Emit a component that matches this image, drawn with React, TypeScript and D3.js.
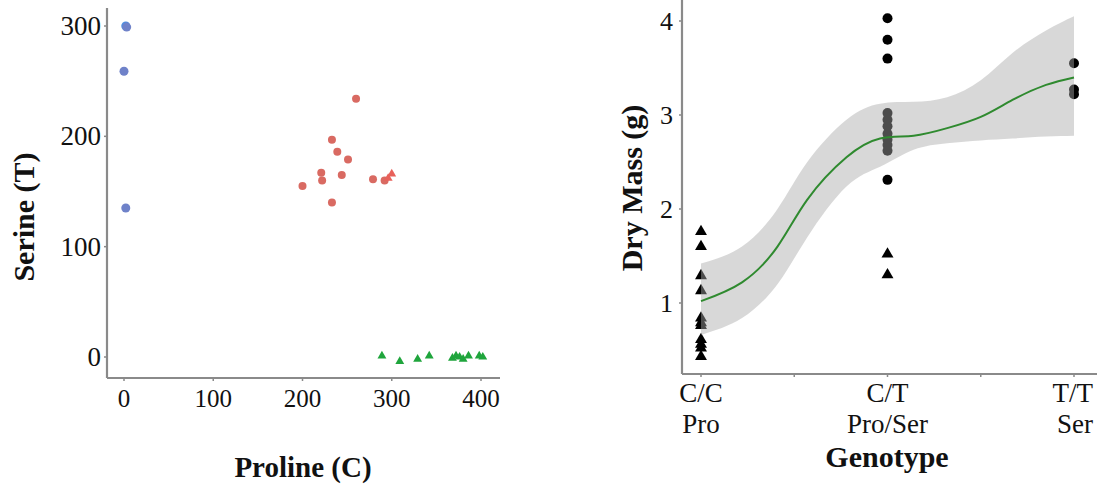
import React from "react";
import * as d3 from "d3";

// ---- Left panel data: Proline (C) vs Serine (T)
const blueX = [2, 3, 0, 2];
const blueY = [300, 299, 259, 135];
const redCircleX = [200, 221, 222, 233, 233, 239, 244, 251, 260, 279, 292];
const redCircleY = [155, 167, 160, 197, 140, 186, 165, 179, 234, 161, 160];
const redTriX = [296, 300];
const redTriY = [162, 166];
const greenTriX = [289, 309, 329, 342, 368, 372, 376, 380, 386, 398, 402];
const greenTriY = [1, -4, -2, 1, -1, 1, 0, -2, 1, 1, 0];
const leftXTicks = [0, 100, 200, 300, 400];
const leftYTicks = [0, 100, 200, 300];

// ---- Right panel data: Genotype vs Dry Mass (g)
const genotypeLine1 = ["C/C", "C/T", "T/T"];
const genotypeLine2 = ["Pro", "Pro/Ser", "Ser"];
const ccTriangles = [1.76, 1.6, 1.29, 1.13, 0.84, 0.79, 0.76, 0.61, 0.56, 0.52, 0.43];
const ctCircles = [4.03, 3.8, 3.6, 3.02, 2.95, 2.88, 2.8, 2.74, 2.68, 2.62, 2.31];
const ctTriangles = [1.52, 1.3];
const ttCircles = [3.55, 3.27, 3.22];
const smoothX = [1.0, 1.22, 1.41, 1.57, 1.78, 1.96, 2.14, 2.32, 2.5, 2.67, 2.85, 3.0];
const smoothFit = [1.02, 1.22, 1.6, 2.1, 2.55, 2.75, 2.78, 2.86, 2.98, 3.16, 3.32, 3.4];
const smoothHi = [1.42, 1.6, 2.0, 2.5, 2.95, 3.12, 3.14, 3.19, 3.37, 3.66, 3.9, 4.05];
const smoothLo = [0.66, 0.84, 1.2, 1.7, 2.24, 2.45, 2.63, 2.7, 2.73, 2.75, 2.77, 2.78];
const rightYTicks = [1, 2, 3, 4];
const rightXMinor = [1.5, 2.5];

const FONT = "'Liberation Serif', 'Times New Roman', serif";
const AXIS = "#8a8a8a";

export default function App() {
  // left scales
  const lx = d3.scaleLinear().domain([0, 400]).range([124, 481]);
  const ly = d3.scaleLinear().domain([0, 300]).range([357, 26]);
  const lAxisX0 = 107, lAxisX1 = 500, lAxisY = 378, lAxisTop = 8;

  // right scales
  const rx = d3.scaleLinear().domain([1, 3]).range([701, 1074]);
  const ry = d3.scaleLinear().domain([0, 4]).range([397, 21]);
  const rAxisX = 682, rAxisY = 374;

  const triSmall = d3.symbol().type(d3.symbolTriangle).size(34)() as string;
  const triBig = d3.symbol().type(d3.symbolTriangle).size(62)() as string;

  const band = d3
    .area<number>()
    .x((_, i) => rx(smoothX[i]))
    .y0((_, i) => ry(smoothLo[i]))
    .y1((_, i) => ry(smoothHi[i]))
    .curve(d3.curveNatural);
  const fitLine = d3
    .line<number>()
    .x((_, i) => rx(smoothX[i]))
    .y((d) => ry(d))
    .curve(d3.curveNatural);

  return (
    <svg
      width={1097}
      height={491}
      style={{ position: "absolute", left: 0, top: 0, background: "#fff" }}
      fontFamily={FONT}
    >
      {/* ===== Left panel ===== */}
      <g>
        <line x1={lAxisX0} x2={lAxisX0} y1={lAxisTop} y2={lAxisY} stroke={AXIS} strokeWidth={2.2} />
        <line x1={lAxisX0} x2={lAxisX1} y1={lAxisY} y2={lAxisY} stroke={AXIS} strokeWidth={2.2} />
        {leftXTicks.map((t) => (
          <g key={"lx" + t}>
            <line x1={lx(t)} x2={lx(t)} y1={lAxisY} y2={lAxisY + 3} stroke={AXIS} strokeWidth={1.5} />
            <text x={lx(t)} y={407} textAnchor="middle" fontSize={25} fill="#111">
              {t}
            </text>
          </g>
        ))}
        {leftYTicks.map((t) => (
          <g key={"ly" + t}>
            <line x1={lAxisX0 - 3} x2={lAxisX0} y1={ly(t)} y2={ly(t)} stroke={AXIS} strokeWidth={1.5} />
            <text x={101} y={ly(t) + 9} textAnchor="end" fontSize={27} fill="#111">
              {t}
            </text>
          </g>
        ))}
        <text
          transform={`translate(34,217) rotate(-90)`}
          textAnchor="middle"
          fontSize={30}
          fontWeight="bold"
          fill="#111"
        >
          Serine (T)
        </text>
        <text x={303} y={477} textAnchor="middle" fontSize={29} fontWeight="bold" fill="#111">
          Proline (C)
        </text>

        {blueX.map((x, i) => (
          <circle key={"b" + i} cx={lx(x)} cy={ly(blueY[i])} r={4.5} fill={i === 0 ? "#4f8ee0" : "#6f82c9"} />
        ))}
        {redCircleX.map((x, i) => (
          <circle key={"r" + i} cx={lx(x)} cy={ly(redCircleY[i])} r={4} fill="#d96a62" />
        ))}
        {redTriX.map((x, i) => (
          <path key={"rt" + i} d={triSmall} transform={`translate(${lx(x)},${ly(redTriY[i])})`} fill="#e8615a" />
        ))}
        {greenTriX.map((x, i) => (
          <path key={"g" + i} d={triSmall} transform={`translate(${lx(x)},${ly(greenTriY[i])})`} fill="#1fa53c" />
        ))}
      </g>

      {/* ===== Right panel ===== */}
      <g>
        {ccTriangles.map((v, i) => (
          <path key={"cc" + i} d={triBig} transform={`translate(${rx(1)},${ry(v)})`} fill="#000" />
        ))}
        {ctCircles.map((v, i) => (
          <circle key={"ctc" + i} cx={rx(2)} cy={ry(v)} r={5} fill="#000" />
        ))}
        {ctTriangles.map((v, i) => (
          <path key={"ctt" + i} d={triBig} transform={`translate(${rx(2)},${ry(v)})`} fill="#000" />
        ))}
        {ttCircles.map((v, i) => (
          <circle key={"tt" + i} cx={rx(3)} cy={ry(v)} r={5} fill="#000" />
        ))}

        <path d={band(smoothFit) as string} fill="#a9a9a9" fillOpacity={0.45} />
        <path d={fitLine(smoothFit) as string} fill="none" stroke="#2f8a2f" strokeWidth={2} />

        <line x1={rAxisX} x2={rAxisX} y1={0} y2={rAxisY} stroke={AXIS} strokeWidth={2.2} />
        <line x1={rAxisX} x2={1097} y1={rAxisY} y2={rAxisY} stroke={AXIS} strokeWidth={2.2} />
        {rightYTicks.map((t) => (
          <g key={"ry" + t}>
            <line x1={rAxisX - 3} x2={rAxisX} y1={ry(t)} y2={ry(t)} stroke={AXIS} strokeWidth={1.5} />
            <text x={673} y={ry(t) + 9} textAnchor="end" fontSize={26} fill="#111">
              {t}
            </text>
          </g>
        ))}
        {[1, 2, 3].map((t, i) => (
          <g key={"rx" + t}>
            <line x1={rx(t)} x2={rx(t)} y1={rAxisY} y2={rAxisY + 3} stroke={AXIS} strokeWidth={1.5} />
            <text
              x={i === 2 ? 1093 : rx(t)}
              y={402}
              textAnchor={i === 2 ? "end" : "middle"}
              fontSize={27}
              fill="#111"
            >
              {genotypeLine1[i]}
            </text>
            <text
              x={i === 2 ? 1093 : rx(t)}
              y={433}
              textAnchor={i === 2 ? "end" : "middle"}
              fontSize={27}
              fill="#111"
            >
              {genotypeLine2[i]}
            </text>
          </g>
        ))}
        {rightXMinor.map((t) => (
          <line key={"rm" + t} x1={rx(t)} x2={rx(t)} y1={rAxisY} y2={rAxisY + 3} stroke={AXIS} strokeWidth={1.5} />
        ))}
        <text
          transform={`translate(642,188) rotate(-90)`}
          textAnchor="middle"
          fontSize={30}
          fontWeight="bold"
          fill="#111"
        >
          Dry Mass (g)
        </text>
        <text x={887} y={467} textAnchor="middle" fontSize={30} fontWeight="bold" fill="#111">
          Genotype
        </text>
      </g>
    </svg>
  );
}
